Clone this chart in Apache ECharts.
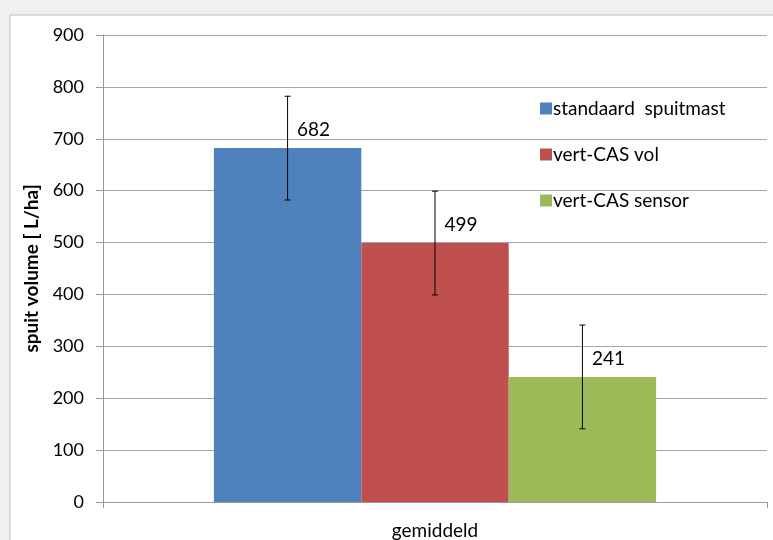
<!DOCTYPE html>
<html>
<head>
<meta charset="utf-8">
<script src="https://cdn.jsdelivr.net/npm/echarts@6/dist/echarts.min.js"></script>
<style>
html,body{margin:0;padding:0;background:#f0f0f0;}
#c{width:773px;height:540px;}
</style>
</head>
<body>
<div id="c"></div>
<script>
var categories = ['gemiddeld'];
var seriesNames = ['standaard  spuitmast', 'vert-CAS vol', 'vert-CAS sensor'];
var seriesValues = [682, 499, 241];
var errorValues = [100, 100, 100];
var colors = ['#4f81bd', '#c0504d', '#9bbb59'];
var yTicks = { min: 0, max: 900, interval: 100 };

var FONT = 'Lato';
var chart = echarts.init(document.getElementById('c'));
var gapPct = 33.4;
var series = seriesNames.map(function (name, i) {
  return {
    name: name,
    type: 'bar',
    data: [seriesValues[i]],
    barGap: '0%',
    barCategoryGap: gapPct + '%',
    itemStyle: { color: colors[i] },
    label: {
      show: true,
      position: 'top',
      distance: 9,
      offset: [26, 0],
      color: '#000',
      fontSize: 19,
      fontFamily: FONT
    },
    z: 2
  };
});
series.push({
  type: 'custom',
  name: 'err',
  data: seriesValues.map(function (v, i) { return [0, v, errorValues[i], i]; }),
  renderItem: function (params, api) {
    var v = api.value(1), e = api.value(2), idx = api.value(3);
    var band = api.size([1, 0])[0];
    var bw = band * (1 - gapPct / 100) / 3;
    var c = api.coord([0, v]);
    var x = c[0] + (idx - 1) * bw;
    var top = api.coord([0, v + e])[1];
    var bot = api.coord([0, v - e])[1];
    var s = { stroke: '#000', lineWidth: 1 };
    return {
      type: 'group',
      children: [
        { type: 'line', shape: { x1: x, y1: top, x2: x, y2: bot }, style: s },
        { type: 'line', shape: { x1: x - 3, y1: top, x2: x + 3, y2: top }, style: s },
        { type: 'line', shape: { x1: x - 3, y1: bot, x2: x + 3, y2: bot }, style: s }
      ]
    };
  },
  z: 5,
  silent: true
});

chart.setOption({
  animation: false,
  backgroundColor: '#f0f0f0',
  graphic: [{
    type: 'rect',
    shape: { x: 10, y: 15, width: 800, height: 600 },
    style: { fill: '#ffffff', stroke: '#bdbdbd', lineWidth: 1 },
    z: -10
  }],
  grid: { left: 103, right: 6, top: 35, bottom: 38 },
  legend: {
    data: seriesNames,
    orient: 'vertical',
    left: 535,
    top: 94,
    itemWidth: 12,
    itemHeight: 12,
    itemGap: 27,
    icon: 'rect',
    textStyle: { fontSize: 19, color: '#000', fontFamily: FONT, padding: [0, 0, 0, -4] }
  },
  xAxis: {
    type: 'category',
    data: categories,
    axisLine: { lineStyle: { color: '#999' } },
    axisTick: { show: true, length: 6, lineStyle: { color: '#999' } },
    axisLabel: { fontSize: 19, color: '#000', margin: 19, fontFamily: FONT }
  },
  yAxis: {
    type: 'value',
    min: yTicks.min,
    max: yTicks.max,
    interval: yTicks.interval,
    name: 'spuit volume [ L/ha]',
    nameLocation: 'middle',
    nameGap: 55,
    nameTextStyle: { fontSize: 19, fontWeight: 'bold', color: '#000', fontFamily: FONT },
    axisLine: { show: true, lineStyle: { color: '#999' } },
    axisTick: { show: true, length: 7, lineStyle: { color: '#999' } },
    axisLabel: { fontSize: 18, color: '#000', margin: 19, fontFamily: FONT },
    splitLine: { lineStyle: { color: '#a6a6a6' } }
  },
  series: series
});
</script>
</body>
</html>
